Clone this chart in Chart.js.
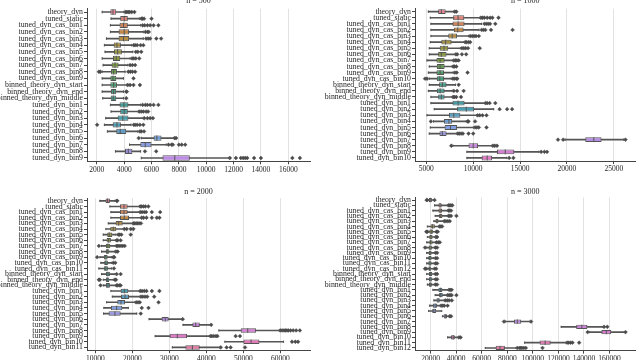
<!DOCTYPE html>
<html>
<head>
<meta charset="utf-8">
<script src="https://cdn.jsdelivr.net/npm/chart.js@4.4.1/dist/chart.umd.min.js"></script>
<style>
  html, body { margin: 0; padding: 0; background: #fff; }
  body { width: 640px; height: 360px; position: relative; overflow: hidden; }
  .panel { position: absolute; }
  canvas { display: block; }
</style>
</head>
<body>
<div class="panel" style="left:0;top:-4px"><canvas id="c500" width="320" height="184"></canvas></div>
<div class="panel" style="left:320px;top:-4px"><canvas id="c1000" width="320" height="184"></canvas></div>
<div class="panel" style="left:0;top:180px"><canvas id="c2000" width="320" height="190"></canvas></div>
<div class="panel" style="left:320px;top:180px"><canvas id="c3000" width="320" height="190"></canvas></div>
<script>
// ---- n = 500 ----
const labels500 = ['theory_dyn', 'tuned_static',
  'tuned_dyn_cas_bin1', 'tuned_dyn_cas_bin2', 'tuned_dyn_cas_bin3', 'tuned_dyn_cas_bin4', 'tuned_dyn_cas_bin5',
  'tuned_dyn_cas_bin6', 'tuned_dyn_cas_bin7', 'tuned_dyn_cas_bin8', 'tuned_dyn_cas_bin9',
  'binned_theory_dyn_start', 'binned_theory_dyn_end', 'binned_theory_dyn_middle',
  'tuned_dyn_bin1', 'tuned_dyn_bin2', 'tuned_dyn_bin3', 'tuned_dyn_bin4', 'tuned_dyn_bin5',
  'tuned_dyn_bin6', 'tuned_dyn_bin7', 'tuned_dyn_bin8', 'tuned_dyn_bin9'];
const ticks500 = [2000, 4000, 6000, 8000, 10000, 12000, 14000, 16000];
const wlo500 = [2390, 3040, 2990, 2990, 2700, 2550, 2600, 2390, 2460, 2390, 2390, 2390, 2390, 2430, 2990, 3040, 2650, 2550, 2770, 5250, 4390, 3360, 5250];
const q1_500 = [2990, 3710, 3660, 3590, 3590, 3230, 3250, 3180, 3080, 3040, 2990, 2990, 3040, 3010, 3660, 3710, 3520, 3160, 3420, 6150, 5180, 4060, 6800];
const med500 = [3180, 4000, 3950, 4000, 3950, 3470, 3520, 3420, 3330, 3230, 3180, 3230, 3230, 3200, 3980, 4000, 3900, 3470, 3710, 6390, 5540, 4300, 7700];
const q3_500 = [3420, 4265, 4265, 4360, 4360, 3760, 3830, 3710, 3590, 3470, 3420, 3470, 3420, 3420, 4310, 4265, 4310, 3760, 4150, 6730, 6000, 4600, 8800];
const whi500 = [3990, 5110, 5200, 5400, 5400, 4550, 4630, 4430, 4270, 4070, 3950, 4190, 3950, 3950, 5200, 5040, 5400, 4500, 5000, 7630, 7070, 5200, 11680];
const out500 = [
  [4100, 4200, 4300, 4400, 4550, 4750],
  [5250, 5350, 5450, 6000],
  [5350, 5500, 5700, 5900, 6150, 6500],
  [5550, 5700, 5800],
  [5600, 5750, 5900, 6350, 6700],
  [4700, 4800, 4950, 5200, 5400],
  [4850, 5000, 5250],
  [4580, 4700, 4850, 5100],
  [4430, 4600, 4800],
  [2150, 2250, 4300, 4450, 4600, 4800],
  [4680],
  [4260, 4430, 4680, 5150],
  [4150, 4190],
  [4150],
  [5350, 5550, 5700, 5900, 6150, 6500],
  [5100, 5250, 5400, 5600, 5750],
  [5470, 5700, 5900, 6100],
  [2020, 4700, 4800, 4950, 5150, 5400],
  [5150, 5250, 5450],
  [5060, 7700, 7800],
  [7240, 7460, 7560, 8000, 8210, 8460],
  [5520, 6340],
  [11730, 12170, 12530, 12700, 12850, 13000, 13500, 14000, 16300, 16850]
];

// ---- n = 1000 ----
const labels1000 = ['theory_dyn', 'tuned_static',
  'tuned_dyn_cas_bin1', 'tuned_dyn_cas_bin2', 'tuned_dyn_cas_bin3', 'tuned_dyn_cas_bin4', 'tuned_dyn_cas_bin5',
  'tuned_dyn_cas_bin6', 'tuned_dyn_cas_bin7', 'tuned_dyn_cas_bin8', 'tuned_dyn_cas_bin9', 'tuned_dyn_cas_bin10',
  'binned_theory_dyn_start', 'binned_theory_dyn_end', 'binned_theory_dyn_middle',
  'tuned_dyn_bin1', 'tuned_dyn_bin2', 'tuned_dyn_bin3', 'tuned_dyn_bin4', 'tuned_dyn_bin5',
  'tuned_dyn_bin6', 'tuned_dyn_bin7', 'tuned_dyn_bin8', 'tuned_dyn_bin9', 'tuned_dyn_bin10'];
const ticks1000 = [5000, 10000, 15000, 20000, 25000];
const wlo1000 = [5210, 5420, 5490, 5490, 5490, 5420, 5310, 5310, 5070, 5310, 5210, 5310, 5310, 5210, 5490, 5490, 5840, 5070, 5770, 5420, 5310, 19800, 7830, 9330, 9330];
const q1_1000 = [6260, 7860, 7790, 7930, 7340, 6600, 6430, 6260, 6080, 6120, 6080, 6120, 6360, 6120, 6260, 7790, 8280, 7410, 6880, 6950, 6400, 21960, 9500, 12540, 10900];
const med1000 = [6600, 8390, 8390, 8350, 7760, 7060, 6890, 6600, 6470, 6470, 6470, 6430, 6710, 6470, 6600, 8390, 9260, 7930, 7410, 7580, 6710, 22870, 10000, 13420, 11490];
const q3_1000 = [7060, 9050, 9080, 8980, 8280, 7690, 7340, 7160, 6950, 6950, 6890, 6890, 7160, 6950, 6950, 9080, 10100, 8630, 7760, 8280, 7160, 23700, 10520, 14390, 12020];
const whi1000 = [7930, 10720, 10900, 10620, 9500, 9050, 8630, 8110, 7860, 7760, 7860, 7650, 8110, 7760, 7760, 11250, 12190, 10370, 9260, 10020, 8280, 26080, 12020, 17010, 13590];
const out1000 = [
  [8040, 8200],
  [10830, 11000, 11200, 11500, 11800, 12050, 12700],
  [11200, 11400, 11600, 11800, 12360],
  [10900, 11100, 11300, 11900, 14200],
  [9680, 9900, 10100, 10300, 10600],
  [9150, 9300, 9500, 9680],
  [8800, 9000, 9200, 9450, 10700],
  [8150, 8300, 8800, 9250],
  [7930, 8100, 8250, 8450],
  [7860, 8000, 8200],
  [8040, 8250, 9400],
  [4860, 5070, 7830, 8000, 8200, 8300],
  [8450],
  [7930, 8280, 8980],
  [7860, 8000, 8200, 8700],
  [11320, 11500, 11750, 12360],
  [12820, 13620, 14150],
  [10480, 10700, 11000, 11420],
  [5490, 9400, 9500, 10200],
  [10200, 10400, 10600, 11420],
  [8350, 8500, 8700, 8900, 9500, 10000],
  [19050, 19600, 26250],
  [7660, 12100, 12300, 12540],
  [17250, 17600, 17880],
  [13840, 14290]
];

// ---- n = 2000 ----
const labels2000 = ['theory_dyn', 'tuned_static',
  'tuned_dyn_cas_bin1', 'tuned_dyn_cas_bin2', 'tuned_dyn_cas_bin3', 'tuned_dyn_cas_bin4', 'tuned_dyn_cas_bin5',
  'tuned_dyn_cas_bin6', 'tuned_dyn_cas_bin7', 'tuned_dyn_cas_bin8', 'tuned_dyn_cas_bin9', 'tuned_dyn_cas_bin10',
  'tuned_dyn_cas_bin11',
  'binned_theory_dyn_start', 'binned_theory_dyn_end', 'binned_theory_dyn_middle',
  'tuned_dyn_bin1', 'tuned_dyn_bin2', 'tuned_dyn_bin3', 'tuned_dyn_bin4', 'tuned_dyn_bin5',
  'tuned_dyn_bin6', 'tuned_dyn_bin7', 'tuned_dyn_bin8', 'tuned_dyn_bin9', 'tuned_dyn_bin10', 'tuned_dyn_bin11'];
const ticks2000 = [10000, 20000, 30000, 40000, 50000, 60000];
const wlo2000 = [11180, 13900, 14170, 14170, 13450, 12810, 12090, 12090, 11630, 11630, 11180, 11450, 10910, 11630, 12090, 12090, 14170, 14540, 13000, 12270, 12180, 24500, 33690, 43390, 26150, 45020, 30780];
const q1_2000 = [12720, 16620, 16620, 16620, 15440, 14000, 13180, 13000, 12810, 12810, 12270, 12360, 12270, 12810, 12810, 12810, 16800, 16900, 15900, 14170, 13540, 27900, 36220, 49300, 30040, 50030, 34320];
const med2000 = [13270, 17710, 17710, 17800, 16260, 14810, 13720, 13540, 13360, 13180, 12810, 12810, 12810, 13360, 13180, 13360, 17800, 17990, 16900, 15720, 15260, 28870, 37120, 51200, 32140, 52100, 36220];
const q3_2000 = [13900, 18710, 18710, 19070, 17350, 15630, 14540, 14170, 14000, 13720, 13270, 13360, 13360, 13900, 13720, 13900, 18890, 19070, 17990, 17260, 16810, 29800, 38220, 53460, 34780, 54380, 38220];
const whi2000 = [15260, 21900, 21890, 22340, 20070, 17530, 15540, 15450, 15450, 15260, 14360, 14360, 14360, 15260, 14810, 15450, 21890, 22070, 20710, 18890, 21160, 33300, 41120, 59720, 40930, 60910, 43660];
const out2000 = [
  [15720, 15900],
  [22100, 22500, 23000, 23500, 24300],
  [22100, 22600, 23200, 23700, 25250, 27500],
  [22500, 23000, 23800, 25250, 26600, 27300],
  [20250, 20600, 21000, 21400, 21800, 22300],
  [17800, 18440, 19530, 20250],
  [16170, 16500, 17000, 19530],
  [15720, 16000, 16800],
  [10910, 15700, 16000, 16400, 16900, 17400, 17900],
  [15540, 16000],
  [10450, 14810, 15080],
  [14810, 15350],
  [14990],
  [15720, 16800],
  [10910, 11180, 15260, 15540],
  [11360, 15720, 16000, 16500, 16800],
  [22100, 22600, 23200, 23800, 25250, 27300],
  [22300, 22800, 23400, 24000, 25880],
  [21000, 21500, 22000, 27060],
  [22520, 24340],
  [22250],
  [33600],
  [41300],
  [60000, 60500, 61000, 61400, 61800, 62200, 62800, 63500, 64300, 65300],
  [41100, 41500, 42000, 42600, 43000, 47930, 49100],
  [63180, 64080, 64810],
  [43900, 45480, 46570, 50460]
];

// ---- n = 3000 ----
const labels3000 = ['theory_dyn', 'tuned_static',
  'tuned_dyn_cas_bin1', 'tuned_dyn_cas_bin2', 'tuned_dyn_cas_bin3', 'tuned_dyn_cas_bin4', 'tuned_dyn_cas_bin5',
  'tuned_dyn_cas_bin6', 'tuned_dyn_cas_bin7', 'tuned_dyn_cas_bin8', 'tuned_dyn_cas_bin9', 'tuned_dyn_cas_bin10',
  'tuned_dyn_cas_bin11', 'tuned_dyn_cas_bin12',
  'binned_theory_dyn_start', 'binned_theory_dyn_end', 'binned_theory_dyn_middle',
  'tuned_dyn_bin1', 'tuned_dyn_bin2', 'tuned_dyn_bin3', 'tuned_dyn_bin4', 'tuned_dyn_bin5', 'tuned_dyn_bin6',
  'tuned_dyn_bin7', 'tuned_dyn_bin8', 'tuned_dyn_bin9', 'tuned_dyn_bin10', 'tuned_dyn_bin11', 'tuned_dyn_bin12'];
const ticks3000 = [20000, 40000, 60000, 80000, 100000, 120000, 140000, 160000];
const wlo3000 = [18000, 23070, 21790, 23580, 22560, 17440, 18210, 17440, 16930, 16930, 16930, 16930, 16930, 17440, 16930, 16930, 17440, 21790, 23580, 22560, 19230, 18460, 29220, 78500, 122150, 144180, 33300, 93500, 62770];
const q1_3000 = [18720, 26140, 26140, 26650, 23840, 20000, 18980, 18980, 18980, 18460, 18460, 18210, 18210, 18210, 18720, 18720, 18720, 26140, 26650, 24610, 21790, 21280, 30240, 85280, 133900, 153630, 35900, 105250, 70920];
const med3000 = [19700, 27450, 27450, 27900, 24990, 21540, 20510, 20260, 20000, 19490, 19490, 19230, 19490, 19230, 20000, 19490, 19750, 27680, 27900, 25890, 23580, 22560, 31520, 87840, 138270, 157470, 37660, 109620, 74290];
const q3_3000 = [21020, 28700, 28950, 29220, 26140, 23330, 22050, 21540, 21540, 21020, 20770, 20770, 20770, 20510, 21280, 21280, 21020, 29220, 29470, 27170, 25120, 24350, 32820, 90900, 142650, 161310, 38970, 113930, 78140];
const whi3000 = [22560, 33300, 33300, 33300, 30210, 26400, 23840, 23840, 23840, 23070, 23070, 22560, 22810, 22050, 23070, 23070, 23070, 33820, 32800, 30750, 27680, 28700, 33820, 97840, 154930, 171800, 41730, 126000, 87050];
const out3000 = [
  [16900, 17400, 23100],
  [34000, 35000, 36000, 37000],
  [34000, 35000, 36000],
  [34000, 35000, 36000, 40200],
  [30700, 32000, 33500, 35000],
  [26900, 28000, 29000],
  [16670, 17440, 24600, 25600],
  [24100, 25100],
  [24600, 26000, 27200],
  [15650, 23840, 25100],
  [23840, 25100],
  [23840, 25100],
  [23840, 25100],
  [15650, 16420, 23330, 24350],
  [23840, 25100],
  [24100, 25100],
  [23840, 25100],
  [34500, 35500, 36500],
  [33300, 34500, 35500, 36500, 40200],
  [31500, 33000, 34500, 36600],
  [28200, 29500, 30700, 33300],
  [],
  [35000, 36000],
  [77400, 98600],
  [155700, 158240],
  [142880, 172500],
  [42200, 43500],
  [126800, 128000, 129500, 131000, 136200],
  [87800, 89500, 90500, 91500, 93000, 94500, 107550]
];

// husl wheel, already desaturated like seaborn boxes
const HUSL = ['#e68294', '#c78847', '#9e9241', '#759c40', '#43a078', '#459e97', '#4a9eb3', '#7fa0e3', '#c789e5', '#e377c4'];
const EDGE = '#555555';
const FLIER = '#4a4a4a';
const SERIF = "'Liberation Serif', 'DejaVu Serif', serif";

Chart.defaults.font.family = SERIF;
Chart.defaults.color = '#262626';

function hexToRgb(h) {
  const n = parseInt(h.slice(1), 16);
  return [(n >> 16) & 255, (n >> 8) & 255, n & 255];
}

function paletteColor(i, n) {
  const t = i / n * HUSL.length;
  const k = Math.floor(t);
  const f = t - k;
  const a = hexToRgb(HUSL[k % HUSL.length]);
  const b = hexToRgb(HUSL[(k + 1) % HUSL.length]);
  const c = a.map((v, j) => Math.round(v + (b[j] - v) * f));
  return `rgb(${c[0]}, ${c[1]}, ${c[2]})`;
}

/**
 * One boxplot panel: whiskers + boxes as floating bars, medians/caps/fliers as points
 */
function buildPanel(id, p) {
  const labels = p.labels;
  const colors = labels.map((_, i) => paletteColor(i, p.nColors));
  const boxes = labels.map((_, i) => [p.q1[i], p.q3[i]]);
  const whiskers = labels.map((_, i) => [p.wlo[i], p.whi[i]]);
  const medians = labels.map((lab, i) => ({ x: p.med[i], y: lab }));
  const caps = [];
  const fliers = [];
  labels.forEach((lab, i) => {
    caps.push({ x: p.wlo[i], y: lab }, { x: p.whi[i], y: lab });
    p.out[i].forEach(v => fliers.push({ x: v, y: lab }));
  });

  // fraction of a category band
  const band = (frac) => (c) => {
    const s = c.chart.scales.y;
    return s ? s.height / labels.length * frac : 2;
  };

  new Chart(document.getElementById(id), {
    type: 'bar',
    data: {
      labels: labels,
      datasets: [
        {
          type: 'scatter',
          data: medians,
          pointStyle: 'line',
          rotation: 90,
          pointRadius: band(0.4),
          borderColor: EDGE,
          borderWidth: 1
        },
        {
          data: boxes,
          backgroundColor: colors,
          borderColor: EDGE,
          borderWidth: 1,
          borderSkipped: false,
          barPercentage: 0.8,
          categoryPercentage: 1,
          grouped: false
        },
        {
          data: whiskers,
          backgroundColor: EDGE,
          borderWidth: 0,
          barThickness: 1,
          grouped: false
        },
        {
          type: 'scatter',
          data: caps,
          pointStyle: 'line',
          rotation: 90,
          pointRadius: band(0.2),
          borderColor: EDGE,
          borderWidth: 1
        },
        {
          type: 'scatter',
          data: fliers,
          pointStyle: 'rectRot',
          pointRadius: 1.9,
          backgroundColor: FLIER,
          borderColor: FLIER,
          borderWidth: 0.5
        }
      ]
    },
    options: {
      indexAxis: 'y',
      responsive: false,
      animation: false,
      events: [],
      layout: { padding: { left: 0, right: p.padRight, top: 0, bottom: 0 } },
      plugins: {
        legend: { display: false },
        tooltip: { enabled: false },
        title: {
          display: true,
          text: p.title,
          fullSize: false,
          color: '#262626',
          font: { family: SERIF, size: 8, weight: 'normal', lineHeight: 1.2 },
          padding: { top: p.titleTop, bottom: p.titleBottom }
        }
      },
      scales: {
        x: {
          type: 'linear',
          min: p.min,
          max: p.max,
          border: { display: true, color: '#444', width: 1 },
          grid: { color: '#e2e2e2', lineWidth: 1, drawTicks: true, tickLength: 3, tickColor: '#444' },
          ticks: {
            autoSkip: false,
            maxRotation: 0,
            padding: 1,
            font: { size: 7.5 },
            callback: (v) => String(v)
          },
          afterBuildTicks: (s) => { s.ticks = p.ticks.map(v => ({ value: v })); },
          afterFit: (s) => { s.height = p.xHeight; }
        },
        y: {
          type: 'category',
          offset: true,
          border: { display: true, color: '#444', width: 1 },
          grid: { drawOnChartArea: false, drawTicks: true, offset: false, tickLength: 3, tickColor: '#444' },
          ticks: { autoSkip: false, padding: 1, font: { size: 7.8, lineHeight: 1 } },
          afterFit: (s) => { s.width = p.yWidth; }
        }
      }
    }
  });
}

buildPanel('c500', {
  title: 'n = 500', labels: labels500, ticks: ticks500,
  wlo: wlo500, q1: q1_500, med: med500, q3: q3_500, whi: whi500, out: out500,
  min: 1280, max: 17590, nColors: 28,
  yWidth: 87, padRight: 10, xHeight: 18.7, titleTop: 0, titleBottom: 3.1
});
buildPanel('c1000', {
  title: 'n = 1000', labels: labels1000, ticks: ticks1000,
  wlo: wlo1000, q1: q1_1000, med: med1000, q3: q3_1000, whi: whi1000, out: out1000,
  min: 3790, max: 27320, nColors: 27,
  yWidth: 95, padRight: 1.5, xHeight: 19, titleTop: 0, titleBottom: 3.0
});
buildPanel('c2000', {
  title: 'n = 2000', labels: labels2000, ticks: ticks2000,
  wlo: wlo2000, q1: q1_2000, med: med2000, q3: q3_2000, whi: whi2000, out: out2000,
  min: 7700, max: 68050, nColors: 27,
  yWidth: 87, padRight: 10, xHeight: 19.8, titleTop: 7.5, titleBottom: 0.9
});
buildPanel('c3000', {
  title: 'n = 3000', labels: labels3000, ticks: ticks3000,
  wlo: wlo3000, q1: q1_3000, med: med3000, q3: q3_3000, whi: whi3000, out: out3000,
  min: 7800, max: 180300, nColors: 29,
  yWidth: 95, padRight: 1.5, xHeight: 19.4, titleTop: 7.5, titleBottom: 0.3
});
</script>
</body>
</html>
